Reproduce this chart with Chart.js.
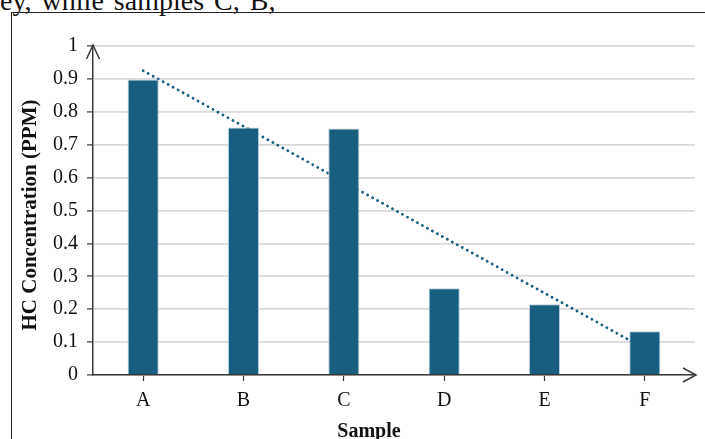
<!DOCTYPE html>
<html>
<head>
<meta charset="utf-8">
<script src="https://cdn.jsdelivr.net/npm/chart.js@4"></script>
<style>
  html, body { margin: 0; padding: 0; background: #fff; overflow: hidden; }
  #page { position: relative; width: 705px; height: 439px; overflow: hidden; }
  #prose {
    position: absolute; left: 0; top: -13px; white-space: nowrap;
    font-family: "Liberation Serif", "Times New Roman", serif;
    font-size: 28px; line-height: 28px; word-spacing: 3px; color: #111;
  }
  #frame {
    position: absolute; left: 11px; top: 12px; width: 720px; height: 460px;
    border-left: 1.5px solid #222; border-top: 1.5px solid #222;
  }
  #chart { position: absolute; left: 0; top: 0; }
</style>
</head>
<body>
<div id="page">
  <div id="prose">ey, while samples C, B,</div>
  <div id="frame"></div>
  <canvas id="chart" width="705" height="439"></canvas>
</div>
<script>
// データ
const samples = ['A', 'B', 'C', 'D', 'E', 'F'];
const hcValues = [0.898, 0.752, 0.749, 0.264, 0.215, 0.133];
// 点線のトレンドライン（両端の値を読み取り）
const trendValues = [0.925, null, null, null, null, 0.08];
const yTicks = [0, 0.1, 0.2, 0.3, 0.4, 0.5, 0.6, 0.7, 0.8, 0.9, 1];

const barColor = '#175e80';
const axisColor = '#3a3a3a';
const serif = '"Liberation Serif", "Times New Roman", serif';

// 軸の矢印と軸タイトル
const axisDecor = {
    id: 'axisDecor',
    afterDraw(chart) {
        const ctx = chart.ctx;
        const a = chart.chartArea;
        ctx.save();
        ctx.strokeStyle = axisColor;
        ctx.lineWidth = 1.5;
        // y軸の矢印
        ctx.beginPath();
        ctx.moveTo(a.left - 6.5, a.top + 13);
        ctx.lineTo(a.left, a.top - 1);
        ctx.lineTo(a.left + 6.5, a.top + 13);
        ctx.stroke();
        // x軸の矢印
        ctx.beginPath();
        ctx.moveTo(a.right - 12, a.bottom - 7);
        ctx.lineTo(a.right + 1, a.bottom);
        ctx.lineTo(a.right - 12, a.bottom + 7);
        ctx.stroke();

        ctx.fillStyle = '#111';
        ctx.font = 'bold 20px ' + serif;
        ctx.textAlign = 'center';
        ctx.textBaseline = 'middle';
        ctx.fillText('Sample', 369, 432);
        ctx.font = 'bold 21px ' + serif;
        ctx.translate(31, 215);
        ctx.rotate(-Math.PI / 2);
        ctx.fillText('HC Concentration (PPM)', 0, 0);
        ctx.restore();
    }
};

new Chart(document.getElementById('chart').getContext('2d'), {
    type: 'bar',
    data: {
        labels: samples,
        datasets: [
            {
                label: 'HC',
                data: hcValues,
                backgroundColor: barColor,
                borderColor: '#b7cedb',
                borderWidth: 1,
                categoryPercentage: 1,
                barPercentage: 0.31,
                order: 1
            },
            {
                type: 'line',
                label: 'Trend',
                data: trendValues,
                spanGaps: true,
                borderColor: barColor,
                borderWidth: 2.8,
                borderDash: [0.1, 5.6],
                borderCapStyle: 'round',
                pointRadius: 0,
                fill: false,
                order: 2
            }
        ]
    },
    options: {
        responsive: false,
        animation: false,
        layout: { padding: { left: 0, top: 46, right: 10, bottom: 0 } },
        plugins: { legend: { display: false }, tooltip: { enabled: false } },
        scales: {
            x: {
                offset: true,
                afterFit: s => { s.height = 64; },
                grid: { display: true, drawOnChartArea: false, offset: false, tickLength: 6, tickColor: axisColor, tickWidth: 1.2 },
                border: { display: true, color: axisColor, width: 1.5 },
                ticks: { color: '#111', font: { family: serif, size: 20 }, padding: 8 }
            },
            y: {
                min: 0,
                max: 1,
                afterFit: s => { s.width = 93; },
                afterBuildTicks: s => { s.ticks = yTicks.map(v => ({ value: v })); },
                grid: { color: '#d9d9d9', lineWidth: 1.8, tickLength: 6, tickColor: axisColor, tickWidth: 1.2 },
                border: { display: true, color: axisColor, width: 1.5 },
                ticks: {
                    color: '#111',
                    font: { family: serif, size: 20 },
                    padding: 9,
                    callback: v => String(+Number(v).toFixed(1))
                }
            }
        }
    },
    plugins: [axisDecor]
});
</script>
</body>
</html>
